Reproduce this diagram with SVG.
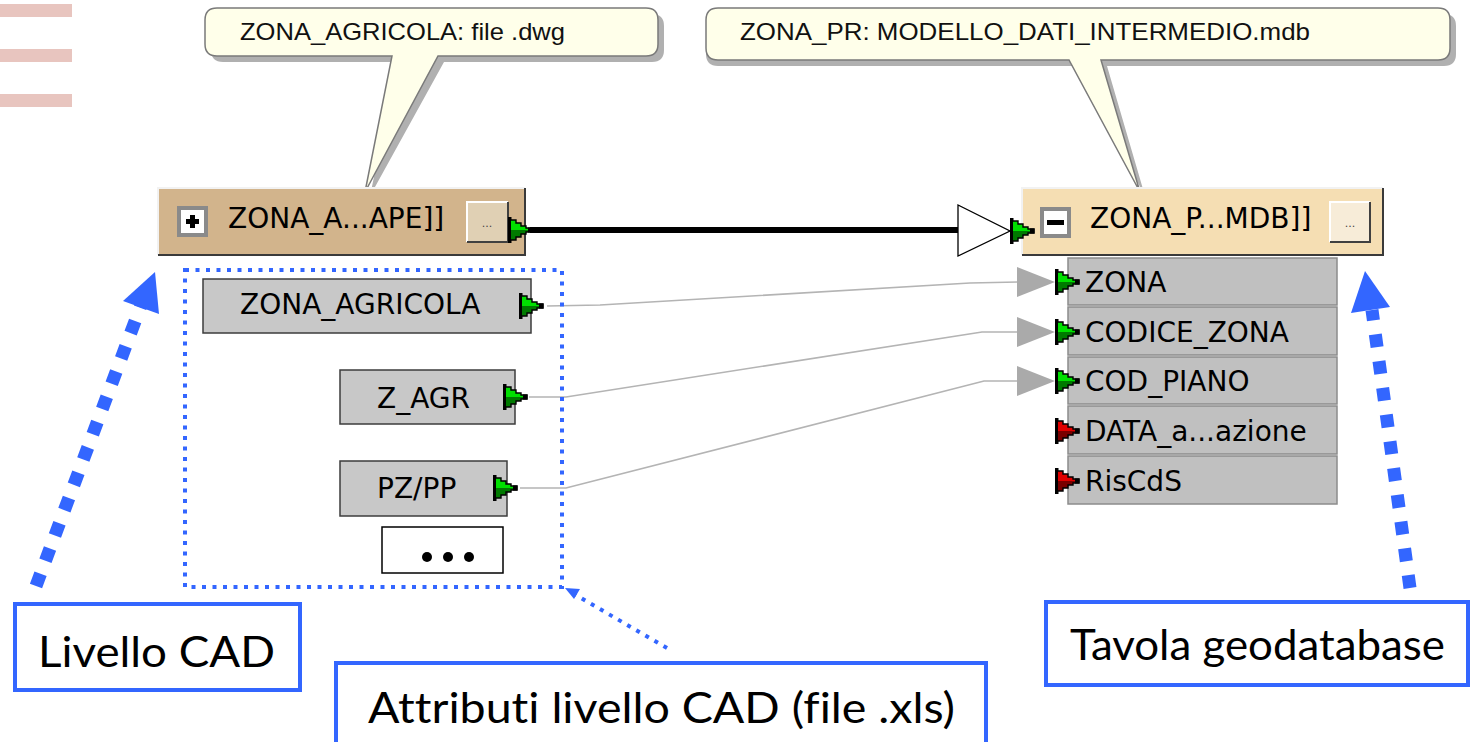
<svg xmlns="http://www.w3.org/2000/svg" xmlns:xlink="http://www.w3.org/1999/xlink" width="1477" height="742" viewBox="0 0 1477 742">
<style>
.fme{font-family:"DejaVu Sans","Liberation Sans",sans-serif;font-size:28px;fill:#000}
.call{font-family:"Liberation Sans",Arial,sans-serif;font-size:24px;fill:#111}
.lab{font-family:"Lato","Open Sans",sans-serif;font-size:42px;fill:#000;font-variant-ligatures:none}
.labbox{fill:#fff;stroke:#3366ff;stroke-width:4}
.gbox{fill:#c8c8c8;stroke:#3c3c3c;stroke-width:1.5}
.row{fill:#c0c0c0;stroke:#8c8c8c;stroke-width:1.5}
.conn{fill:none;stroke:#b4b4b4;stroke-width:1.6}
.bluedash{fill:none;stroke:#3366ff;stroke-width:13;stroke-dasharray:13 14}
.bluedot{fill:none;stroke:#3366ff;stroke-width:4;stroke-dasharray:4 6.5}
.ghead{fill:#aaaaaa}
.pink{fill:#e8c5bf}
</style>
<defs>
<g id="pg">
<rect x="0" y="-13" width="3.5" height="26" fill="#000"/>
<path d="M3,-10 H8 V-7 H13 V-4 H18 V-2 H24 V0 H3 Z" fill="#00e000"/>
<path d="M3,0 H24 V2 H18 V4 H13 V7 H8 V10 H3 Z" fill="#007a00"/>
<path d="M3,-10 H8 V-7 H13 V-4 H18 V-2 H24 V2 H18 V4 H13 V7 H8 V10 H3" fill="none" stroke="#000" stroke-width="1.4"/>
<rect x="20" y="-2.5" width="4.5" height="5" fill="#000"/>
</g>
<g id="pr">
<rect x="0" y="-13" width="3.5" height="26" fill="#000"/>
<path d="M3,-10 H8 V-7 H13 V-4 H18 V-2 H24 V0 H3 Z" fill="#e00000"/>
<path d="M3,0 H24 V2 H18 V4 H13 V7 H8 V10 H3 Z" fill="#7a0000"/>
<path d="M3,-10 H8 V-7 H13 V-4 H18 V-2 H24 V2 H18 V4 H13 V7 H8 V10 H3" fill="none" stroke="#000" stroke-width="1.4"/>
<rect x="20" y="-2.5" width="4.5" height="5" fill="#000"/>
</g>
<polygon id="gh" points="0,-15 0,15 38,0"/>
</defs>

<!-- decorative bars -->
<rect class="pink" x="0" y="4" width="72" height="13"/>
<rect class="pink" x="0" y="49" width="72" height="13"/>
<rect class="pink" x="0" y="94" width="72" height="13"/>

<!-- callouts -->
<g id="callout1">
<path d="M217,14 H652 Q664,14 664,26 V50 Q664,62 652,62 H444 L370,196 L398,62 H223 Q211,62 211,50 V26 Q211,14 217,14 Z" fill="#b0b0b0"/>
<path d="M217,8 H646 Q658,8 658,20 V44 Q658,56 646,56 H438 L365,192 L392,56 H217 Q205,56 205,44 V20 Q205,8 217,8 Z" fill="#ffffea" stroke="#7a7a7a" stroke-width="1.5"/>
<text class="call" x="240" y="40" textLength="325" lengthAdjust="spacingAndGlyphs">ZONA_AGRICOLA: file .dwg</text>
</g>
<g id="callout2">
<path d="M718,14 H1444 Q1456,14 1456,26 V54 Q1456,66 1444,66 H1107 L1145,196 L1075,66 H718 Q706,66 706,54 V26 Q706,14 718,14 Z" fill="#b0b0b0"/>
<path d="M718,8 H1438 Q1450,8 1450,20 V48 Q1450,60 1438,60 H1101 L1140,192 L1069,60 H718 Q706,60 706,48 V20 Q706,8 718,8 Z" fill="#ffffea" stroke="#7a7a7a" stroke-width="1.5"/>
<text class="call" x="740" y="40" textLength="570" lengthAdjust="spacingAndGlyphs">ZONA_PR: MODELLO_DATI_INTERMEDIO.mdb</text>
</g>

<!-- connectors -->
<g id="connectors">
<line x1="530" y1="230" x2="958" y2="230" stroke="#000" stroke-width="6"/>
<polygon points="958,205 958,256 1010,231" fill="#fff" stroke="#000" stroke-width="1.3"/>
<path class="conn" d="M547,306 L600,305 L970,283 L1018,282"/>
<path class="conn" d="M529,397 L566,397 L982,332 L1018,332"/>
<path class="conn" d="M520,488 L566,488 L984,381 L1018,381"/>
<use href="#gh" class="ghead" x="1017" y="282"/>
<use href="#gh" class="ghead" x="1017" y="332"/>
<use href="#gh" class="ghead" x="1017" y="381"/>
<path class="bluedash" d="M36,586 L143,300"/>
<polygon points="155,272 123,301 159,314" fill="#3366ff"/>
<path class="bluedash" d="M1410,588 L1372,310"/>
<polygon points="1365,271 1351,313 1390,307" fill="#3366ff"/>
<path class="bluedot" d="M667,648 L574,594"/>
<polygon points="565,588 580,589 574,599" fill="#3366ff"/>
</g>

<!-- source feature type node -->
<g id="node-source">
<rect x="158" y="188" width="367" height="67" fill="#d2b48c"/>
<polyline points="158,255 158,188 525,188" fill="none" stroke="#f2f2f2" stroke-width="2"/>
<polyline points="158,255 525,255 525,188" fill="none" stroke="#3a3a3a" stroke-width="2"/>
<rect x="177" y="206" width="31" height="31" fill="#8a8a8a"/>
<rect x="181" y="210" width="23" height="23" fill="#fff"/>
<path d="M190,215 H195 V219 H199 V224 H195 V228 H190 V224 H186 V219 H190 Z" fill="#000"/>
<text class="fme" x="228" y="228">ZONA_A...APE]]</text>
<rect x="467" y="202" width="41" height="40" fill="#e0d0b4"/>
<polyline points="467,242 467,202 508,202" fill="none" stroke="#fff" stroke-width="2"/>
<polyline points="467,242 508,242 508,202" fill="none" stroke="#404040" stroke-width="2"/>
<text x="487" y="227" font-family="DejaVu Sans,sans-serif" font-size="11" fill="#444" text-anchor="middle">...</text>
<use href="#pg" x="508" y="230"/>
</g>

<!-- attribute nodes -->
<g id="attributes-frame">
<rect class="bluedot" x="185" y="270" width="377" height="317"/>
</g>
<g id="attr-zona-agricola">
<rect class="gbox" x="203" y="279" width="328" height="54"/>
<text class="fme" x="240" y="314">ZONA_AGRICOLA</text>
<use href="#pg" x="519" y="306"/>
</g>
<g id="attr-z-agr">
<rect class="gbox" x="340" y="370" width="175" height="54"/>
<text class="fme" x="377" y="408">Z_AGR</text>
<use href="#pg" x="503" y="397"/>
</g>
<g id="attr-pz-pp">
<rect class="gbox" x="340" y="461" width="167" height="55"/>
<text class="fme" x="377" y="498">PZ/PP</text>
<use href="#pg" x="493" y="488"/>
</g>
<g id="attr-more">
<rect x="382" y="527" width="121" height="46" fill="#fff" stroke="#000" stroke-width="1.5"/>
<circle cx="427" cy="557" r="5"/>
<circle cx="448" cy="557" r="5"/>
<circle cx="469" cy="557" r="5"/>
</g>

<!-- destination feature type node -->
<g id="node-dest">
<rect x="1022" y="188" width="361" height="67" fill="#f5deb3"/>
<polyline points="1022,255 1022,188 1383,188" fill="none" stroke="#f2f2f2" stroke-width="2"/>
<polyline points="1022,255 1383,255 1383,188" fill="none" stroke="#3a3a3a" stroke-width="2"/>
<rect x="1040" y="207" width="31" height="31" fill="#8a8a8a"/>
<rect x="1044" y="211" width="23" height="23" fill="#fff"/>
<rect x="1047" y="220" width="17" height="5" fill="#000"/>
<text class="fme" x="1090" y="228">ZONA_P...MDB]]</text>
<rect x="1330" y="202" width="40" height="40" fill="#f7ecd8"/>
<polyline points="1330,242 1330,202 1370,202" fill="none" stroke="#fff" stroke-width="2"/>
<polyline points="1330,242 1370,242 1370,202" fill="none" stroke="#404040" stroke-width="2"/>
<text x="1350" y="227" font-family="DejaVu Sans,sans-serif" font-size="11" fill="#444" text-anchor="middle">...</text>
<use href="#pg" x="1010" y="231"/>
<rect class="row" x="1068" y="258" width="269" height="47"/>
<rect class="row" x="1068" y="307" width="269" height="48"/>
<rect class="row" x="1068" y="357" width="269" height="47"/>
<rect class="row" x="1068" y="406" width="269" height="48"/>
<rect class="row" x="1068" y="456" width="269" height="48"/>
<text class="fme" x="1085" y="292">ZONA</text>
<text class="fme" x="1085" y="342">CODICE_ZONA</text>
<text class="fme" x="1085" y="391">COD_PIANO</text>
<text class="fme" x="1085" y="441">DATA_a...azione</text>
<text class="fme" x="1085" y="491">RisCdS</text>
<use href="#pg" x="1055" y="282"/>
<use href="#pg" x="1055" y="332"/>
<use href="#pg" x="1055" y="381"/>
<use href="#pr" x="1055" y="431"/>
<use href="#pr" x="1055" y="481"/>
</g>

<!-- labels -->
<g id="label-livello">
<rect class="labbox" x="15" y="604" width="285" height="86"/>
<text class="lab" x="38" y="667" textLength="237" lengthAdjust="spacingAndGlyphs">Livello CAD</text>
</g>
<g id="label-tavola">
<rect class="labbox" x="1046" y="602" width="422" height="83"/>
<text class="lab" x="1070" y="660" textLength="375" lengthAdjust="spacingAndGlyphs">Tavola geodatabase</text>
</g>
<g id="label-attributi">
<rect class="labbox" x="336" y="663" width="650" height="90"/>
<text class="lab" x="368" y="723" textLength="587" lengthAdjust="spacingAndGlyphs">Attributi livello CAD (file .xls)</text>
</g>
</svg>
